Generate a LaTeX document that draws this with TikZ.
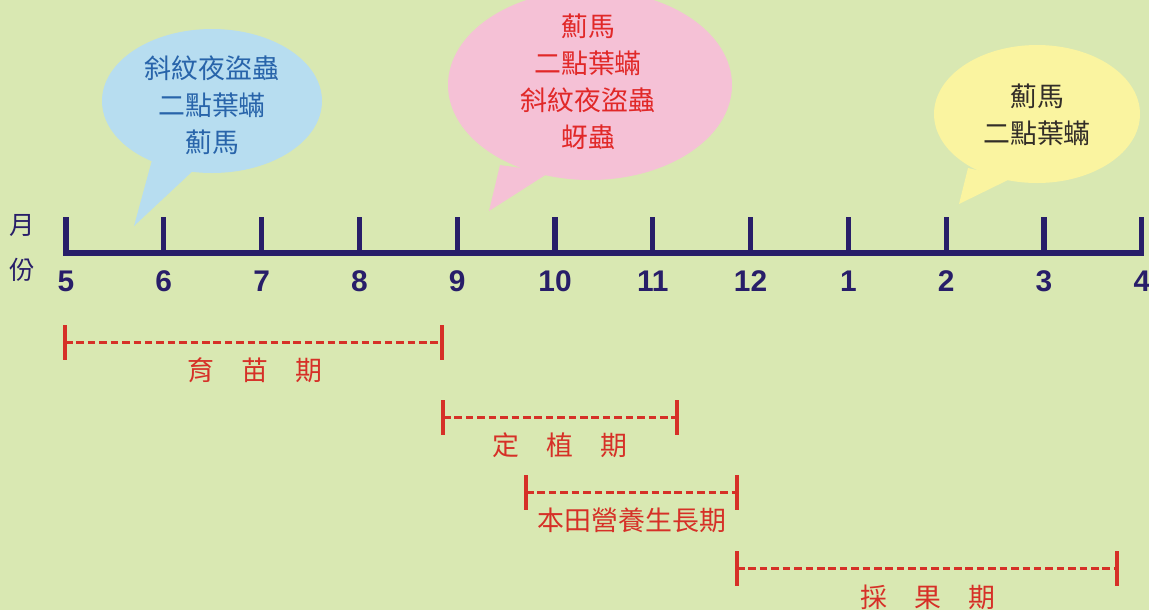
\documentclass[tikz,border=0pt]{standalone}
\usepackage{fontspec}
\setmainfont{Liberation Sans}
\newfontfamily\cjk{Noto Sans CJK TC}
\definecolor{bgc}{RGB}{217,232,178}
\definecolor{bluebub}{RGB}{183,221,240}
\definecolor{pinkbub}{RGB}{245,193,214}
\definecolor{yelbub}{RGB}{250,244,160}
\definecolor{navy}{RGB}{40,30,105}
\definecolor{redc}{RGB}{214,48,39}
\definecolor{bluetxt}{RGB}{40,100,170}
\definecolor{redtxt}{RGB}{225,40,40}
\definecolor{darktxt}{RGB}{50,45,40}
\begin{document}
\begin{tikzpicture}[x=0.02cm,y=-0.02cm,
  bubtext/.style={align=center,inner sep=0pt,font=\cjk\fontsize{15.3}{21}\selectfont},
  monthlbl/.style={inner sep=0pt,text=navy,font=\bfseries\fontsize{17}{18}\selectfont},
  axisline/.style={navy,line width=2.9pt},
  period/.style={redc,line width=1.7pt,dash pattern=on 4.3pt off 2.2pt},
  periodend/.style={redc,line width=1.8pt},
  periodlbl/.style={inner sep=0pt,text=redc,font=\cjk\fontsize{15.3}{18}\selectfont}]
\fill[bgc] (0,0) rectangle (1149,610);
\useasboundingbox (0,0) rectangle (1149,610);
% bubbles
\fill[bluebub] (212,101) ellipse [x radius=110,y radius=72];
\fill[bluebub] (152,160) -- (134,226) -- (196,168) -- cycle;
\fill[pinkbub] (590,85) ellipse [x radius=142,y radius=95];
\fill[pinkbub] (500,165) -- (489,211) -- (550,172) -- cycle;
\fill[yelbub] (1037,114) ellipse [x radius=103,y radius=69];
\fill[yelbub] (968,168) -- (959,204) -- (1012,178) -- cycle;
\node[bubtext,text=bluetxt] (b1) at (212,105) {斜紋夜盜蟲\\二點葉蟎\\薊馬};
\node[bubtext,text=redtxt] (b2) at (588,82) {薊馬\\二點葉蟎\\斜紋夜盜蟲\\蚜蟲};
\node[bubtext,text=darktxt] (b3) at (1037,115) {薊馬\\二點葉蟎};
% axis
\node[inner sep=0pt,text=navy,font=\cjk\fontsize{14.5}{16}\selectfont] (yue) at (22,225) {月};
\node[inner sep=0pt,text=navy,font=\cjk\fontsize{14.5}{16}\selectfont] (fen) at (22,270) {份};
\foreach \i/\m in {0/5,1/6,2/7,3/8,4/9,5/10,6/11,7/12,8/1,9/2,10/3,11/4}{
  \coordinate (t\i) at ({66+97.8*\i},253);
  \coordinate (u\i) at ({66+97.8*\i},217);
  \node[monthlbl] (m\i) at ({66+97.8*\i},281) {\m};
  \draw[axisline] (t\i) -- (u\i);
}
\draw[axisline,line cap=rect] (t0) -- (t11);
% periods
\foreach \n/\xa/\xb/\yy/\lx/\ly/\txt in {
  p1/65/442/342/255/370/{育　苗　期},
  p2/443/677/417/560/445/{定　植　期},
  p3/526/737/492/632/520/{本田營養生長期},
  p4/737/1117/568/928/597/{採　果　期}}{
  \coordinate (\n a) at (\xa,\yy);
  \coordinate (\n b) at (\xb,\yy);
  \draw[period] (\n a) -- (\n b);
  \draw[periodend] ([yshift=17*0.02cm]\n a) -- ([yshift=-18*0.02cm]\n a);
  \draw[periodend] ([yshift=17*0.02cm]\n b) -- ([yshift=-18*0.02cm]\n b);
  \node[periodlbl] (\n l) at (\lx,\ly) {\txt};
}
\end{tikzpicture}
\end{document}
